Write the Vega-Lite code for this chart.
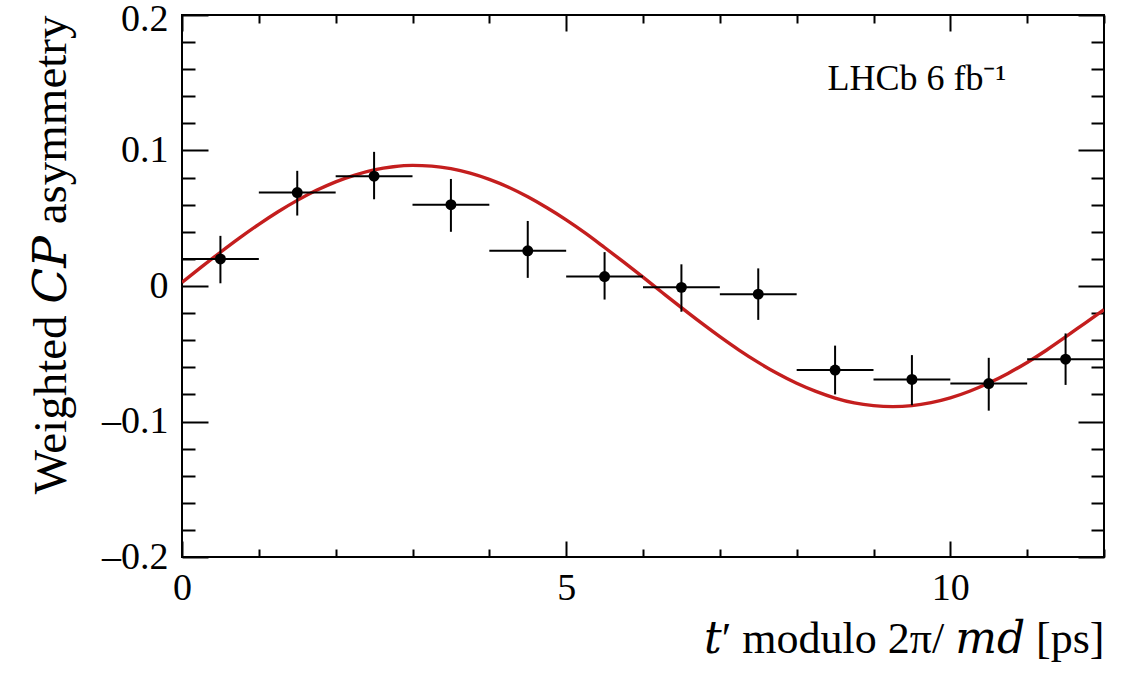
{
  "$schema": "https://vega.github.io/schema/vega-lite/v6.json",
  "width": 922,
  "height": 542,
  "autosize": {"type": "none"},
  "padding": {"left": 182, "top": 15, "right": 24, "bottom": 125},
  "background": "white",
  "datasets": {
    "bins": [
      {"t": 0.5, "tlo": 0, "thi": 1, "a": 0.020, "alo": 0.002, "ahi": 0.037},
      {"t": 1.5, "tlo": 1, "thi": 2, "a": 0.069, "alo": 0.052, "ahi": 0.085},
      {"t": 2.5, "tlo": 2, "thi": 3, "a": 0.081, "alo": 0.064, "ahi": 0.099},
      {"t": 3.5, "tlo": 3, "thi": 4, "a": 0.060, "alo": 0.040, "ahi": 0.079},
      {"t": 4.5, "tlo": 4, "thi": 5, "a": 0.026, "alo": 0.006, "ahi": 0.048},
      {"t": 5.5, "tlo": 5, "thi": 6, "a": 0.007, "alo": -0.010, "ahi": 0.025},
      {"t": 6.5, "tlo": 6, "thi": 7, "a": -0.001, "alo": -0.019, "ahi": 0.016},
      {"t": 7.5, "tlo": 7, "thi": 8, "a": -0.006, "alo": -0.025, "ahi": 0.013},
      {"t": 8.5, "tlo": 8, "thi": 9, "a": -0.062, "alo": -0.080, "ahi": -0.044},
      {"t": 9.5, "tlo": 9, "thi": 10, "a": -0.069, "alo": -0.088, "ahi": -0.051},
      {"t": 10.5, "tlo": 10, "thi": 11, "a": -0.072, "alo": -0.092, "ahi": -0.053},
      {"t": 11.5, "tlo": 11, "thi": 12, "a": -0.054, "alo": -0.073, "ahi": -0.035}
    ],
    "fit": [
      {"t": 0.0, "a": 0.0027}, {"t": 0.25, "a": 0.0139}, {"t": 0.5, "a": 0.0249},
      {"t": 0.75, "a": 0.0355}, {"t": 1.0, "a": 0.0455}, {"t": 1.25, "a": 0.0548},
      {"t": 1.5, "a": 0.0632}, {"t": 1.75, "a": 0.0706}, {"t": 2.0, "a": 0.0769},
      {"t": 2.25, "a": 0.0819}, {"t": 2.5, "a": 0.0857}, {"t": 2.75, "a": 0.0880},
      {"t": 3.0, "a": 0.0890}, {"t": 3.25, "a": 0.0885}, {"t": 3.5, "a": 0.0866},
      {"t": 3.75, "a": 0.0833}, {"t": 4.0, "a": 0.0787}, {"t": 4.25, "a": 0.0729},
      {"t": 4.5, "a": 0.0658}, {"t": 4.75, "a": 0.0577}, {"t": 5.0, "a": 0.0488},
      {"t": 5.25, "a": 0.0390}, {"t": 5.5, "a": 0.0284}, {"t": 5.75, "a": 0.0176},
      {"t": 6.0, "a": 0.0065}, {"t": 6.25, "a": -0.0048}, {"t": 6.5, "a": -0.0160},
      {"t": 6.75, "a": -0.0269}, {"t": 7.0, "a": -0.0374}, {"t": 7.25, "a": -0.0473},
      {"t": 7.5, "a": -0.0564}, {"t": 7.75, "a": -0.0646}, {"t": 8.0, "a": -0.0718},
      {"t": 8.25, "a": -0.0778}, {"t": 8.5, "a": -0.0827}, {"t": 8.75, "a": -0.0863},
      {"t": 9.0, "a": -0.0883}, {"t": 9.25, "a": -0.0890}, {"t": 9.5, "a": -0.0883},
      {"t": 9.75, "a": -0.0861}, {"t": 10.0, "a": -0.0826}, {"t": 10.25, "a": -0.0777},
      {"t": 10.5, "a": -0.0716}, {"t": 10.75, "a": -0.0645}, {"t": 11.0, "a": -0.0564},
      {"t": 11.25, "a": -0.0474}, {"t": 11.5, "a": -0.0376}, {"t": 11.75, "a": -0.0275},
      {"t": 12.0, "a": -0.0175}
    ],
    "label": [{"t": 8.4, "a": 0.145, "text": "LHCb 6 fb⁻¹"}]
  },
  "layer": [
    {
      "data": {"name": "fit"},
      "mark": {"type": "line", "color": "#c41e1e", "strokeWidth": 3.4, "interpolate": "monotone", "clip": true},
      "encoding": {
        "x": {
          "field": "t", "type": "quantitative",
          "scale": {"domain": [0, 12], "nice": false, "zero": false},
          "axis": {
            "orient": "bottom",
            "values": [0, 1, 2, 3, 4, 5, 6, 7, 8, 9, 10, 11, 12],
            "tickSize": {"condition": {"test": "datum.value % 5 === 0", "value": -16}, "value": -8},
            "labelExpr": "datum.value % 5 === 0 ? format(datum.value, 'd') : ''",
            "labelPadding": 28,
            "labelBaseline": "top",
            "title": "𝑡′ modulo 2π/  𝑚𝑑 [ps]",
            "titleAnchor": "end",
            "titleFontSize": 44,
            "titlePadding": 2
          }
        },
        "y": {
          "field": "a", "type": "quantitative",
          "scale": {"domain": [-0.2, 0.2], "nice": false, "zero": false},
          "axis": {
            "orient": "left",
            "values": [-0.2, -0.18, -0.16, -0.14, -0.12, -0.1, -0.08, -0.06, -0.04, -0.02, 0, 0.02, 0.04, 0.06, 0.08, 0.1, 0.12, 0.14, 0.16, 0.18, 0.2],
            "tickSize": {"condition": {"test": "abs(datum.value * 10 - round(datum.value * 10)) < 0.001", "value": -26}, "value": -13},
            "labelExpr": "abs(datum.value * 10 - round(datum.value * 10)) < 0.001 ? (datum.value < -0.001 ? '–' : '') + format(abs(datum.value), '.1~f') : ''",
            "labelOffset": {"condition": {"test": "datum.value > 0.19", "value": 4}, "value": 0},
            "labelPadding": 40,
            "title": "Weighted 𝐶𝑃 asymmetry",
            "titleAnchor": "end",
            "titleFontSize": 47,
            "titlePadding": 26
          }
        }
      }
    },
    {
      "data": {"name": "bins"},
      "mark": {"type": "rule", "color": "black", "strokeWidth": 2},
      "encoding": {
        "x": {
          "field": "tlo", "type": "quantitative",
          "axis": {
            "orient": "top",
            "values": [0, 1, 2, 3, 4, 5, 6, 7, 8, 9, 10, 11, 12],
            "tickSize": {"condition": {"test": "datum.value % 5 === 0", "value": -16}, "value": -8},
            "labels": false,
            "title": null
          }
        },
        "x2": {"field": "thi"},
        "y": {
          "field": "a", "type": "quantitative",
          "axis": {
            "orient": "right",
            "values": [-0.2, -0.18, -0.16, -0.14, -0.12, -0.1, -0.08, -0.06, -0.04, -0.02, 0, 0.02, 0.04, 0.06, 0.08, 0.1, 0.12, 0.14, 0.16, 0.18, 0.2],
            "tickSize": {"condition": {"test": "abs(datum.value * 10 - round(datum.value * 10)) < 0.001", "value": -26}, "value": -13},
            "labels": false,
            "title": null
          }
        }
      }
    },
    {
      "data": {"name": "bins"},
      "mark": {"type": "rule", "color": "black", "strokeWidth": 2},
      "encoding": {
        "x": {"field": "t", "type": "quantitative", "axis": null},
        "y": {"field": "alo", "type": "quantitative", "axis": null},
        "y2": {"field": "ahi"}
      }
    },
    {
      "data": {"name": "bins"},
      "mark": {"type": "point", "filled": true, "shape": "circle", "color": "black", "size": 120, "opacity": 1},
      "encoding": {
        "x": {"field": "t", "type": "quantitative", "axis": null},
        "y": {"field": "a", "type": "quantitative", "axis": null}
      }
    },
    {
      "data": {"name": "label"},
      "mark": {"type": "text", "align": "left", "baseline": "alphabetic", "fontSize": 36, "font": "Liberation Serif", "color": "black"},
      "encoding": {
        "x": {"field": "t", "type": "quantitative", "axis": null},
        "y": {"field": "a", "type": "quantitative", "axis": null},
        "text": {"field": "text"}
      }
    }
  ],
  "resolve": {"axis": {"x": "independent", "y": "independent"}},
  "config": {
    "font": "Liberation Serif",
    "view": {"stroke": "black", "strokeWidth": 2},
    "axis": {
      "domain": false,
      "grid": false,
      "tickColor": "black",
      "tickWidth": 2,
      "labelFont": "Liberation Serif",
      "labelFontSize": 38,
      "labelColor": "black",
      "labelFlush": false,
      "labelOverlap": false,
      "titleFont": "Liberation Serif, DejaVu Serif",
      "titleFontWeight": "normal",
      "titleColor": "black"
    }
  }
}
